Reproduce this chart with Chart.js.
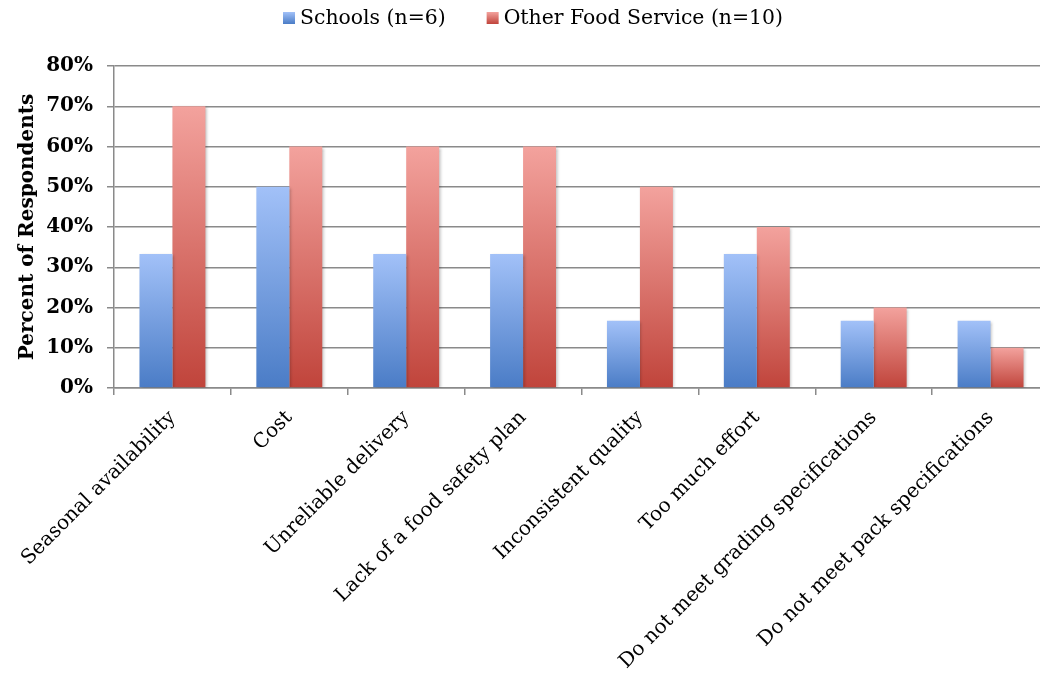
<!DOCTYPE html>
<html>
<head>
<meta charset="utf-8">
<script src="https://cdn.jsdelivr.net/npm/chart.js@4/dist/chart.umd.min.js"></script>
<style>
  html, body { margin: 0; padding: 0; background: #fff; overflow: hidden; }
  #wrap { width: 1060px; height: 676px; }
</style>
</head>
<body>
<div id="wrap"><canvas id="myChart" width="1060" height="676"></canvas></div>
<script>
// Barriers reported by respondents, percent of each group
const categories = [
  'Seasonal availability',
  'Cost',
  'Unreliable delivery',
  'Lack of a food safety plan',
  'Inconsistent quality',
  'Too much effort',
  'Do not meet grading specifications',
  'Do not meet pack specifications'
];
const schools = [33.3, 50, 33.3, 33.3, 16.7, 33.3, 16.7, 16.7];
const otherFoodService = [70, 60, 60, 60, 50, 40, 20, 10];
const yTicks = [0, 10, 20, 30, 40, 50, 60, 70, 80];

const SERIF = "'DejaVu Serif', 'Liberation Serif', serif";

const BLUE = ['#a2c1f8', '#4a7cc6'];
const RED = ['#f3a29d', '#c0443b'];

// vertical gradient for each bar, light at the top and dark at the base
function barFill(top, bottom) {
  return function (context) {
    const chart = context.chart;
    const y = chart.scales.y;
    if (!y || !chart.chartArea || context.type !== 'data') return bottom;
    const y0 = y.getPixelForValue(context.raw);
    const y1 = y.getPixelForValue(0);
    if (!isFinite(y0) || !isFinite(y1) || y0 === y1) return bottom;
    const g = chart.ctx.createLinearGradient(0, y0, 0, y1);
    g.addColorStop(0, top);
    g.addColorStop(1, bottom);
    return g;
  };
}

// soft shadow behind the bars
const barShadow = {
  id: 'barShadow',
  beforeDatasetsDraw(chart) {
    const c = chart.ctx;
    c.save();
    c.shadowColor = 'rgba(0,0,0,0.28)';
    c.shadowBlur = 3;
    c.shadowOffsetX = 1.5;
    c.shadowOffsetY = 1;
  },
  afterDatasetsDraw(chart) {
    chart.ctx.restore();
  }
};

// legend row on top: small gradient square, tight text, wide gap between entries
const topLegend = {
  id: 'topLegend',
  afterDraw(chart) {
    const c = chart.ctx;
    const colors = [BLUE, RED];
    const box = 12, textGap = 5, itemGap = 41, midY = 18;
    c.save();
    c.font = '20.4px ' + SERIF;
    c.textBaseline = 'middle';
    let x = 283;
    chart.data.datasets.forEach((ds, i) => {
      const g = c.createLinearGradient(0, midY - box / 2, 0, midY + box / 2);
      g.addColorStop(0, colors[i][0]);
      g.addColorStop(1, colors[i][1]);
      c.fillStyle = g;
      c.fillRect(x, midY - box / 2, box, box);
      x += box + textGap;
      c.fillStyle = '#000';
      c.fillText(ds.label, x, midY + 1);
      x += c.measureText(ds.label).width + itemGap;
    });
    c.restore();
  }
};

const ctx = document.getElementById('myChart');

new Chart(ctx, {
  type: 'bar',
  data: {
    labels: categories,
    datasets: [{
      label: 'Schools (n=6)',
      data: schools,
      backgroundColor: barFill(BLUE[0], BLUE[1]),
      borderWidth: 0
    }, {
      label: 'Other Food Service (n=10)',
      data: otherFoodService,
      backgroundColor: barFill(RED[0], RED[1]),
      borderWidth: 0
    }]
  },
  plugins: [barShadow, topLegend],
  options: {
    responsive: false,
    animation: false,
    devicePixelRatio: 1,
    layout: { padding: { left: 0, right: 11, top: 66, bottom: 0 } },
    datasets: {
      bar: { categoryPercentage: 0.564, barPercentage: 1.0 }
    },
    plugins: {
      tooltip: { enabled: false },
      legend: { display: false }
    },
    scales: {
      x: {
        grid: {
          offset: true,
          drawOnChartArea: false,
          drawTicks: true,
          tickLength: 7,
          color: '#8a8a8a',
          lineWidth: 1.5
        },
        border: { color: '#8a8a8a', width: 1.5 },
        ticks: {
          color: '#000',
          font: { family: SERIF, size: 20 },
          maxRotation: 45,
          minRotation: 45,
          autoSkip: false,
          padding: 11
        },
        afterFit(scale) { scale.height = 288; }
      },
      y: {
        min: 0,
        max: 80,
        afterBuildTicks(scale) {
          scale.ticks = yTicks.map(v => ({ value: v }));
        },
        grid: {
          color: '#8a8a8a',
          lineWidth: 1.5,
          tickLength: 7
        },
        border: { color: '#8a8a8a', width: 1.5 },
        ticks: {
          color: '#000',
          font: { family: SERIF, size: 20, weight: 'bold' },
          padding: 14,
          callback: v => v + '%'
        },
        title: {
          display: true,
          text: 'Percent of Respondents',
          color: '#000',
          font: { family: SERIF, size: 20, weight: 'bold' },
          padding: { top: 16, bottom: 0 }
        },
        afterFit(scale) { scale.width = 114; }
      }
    }
  }
});
</script>
</body>
</html>
